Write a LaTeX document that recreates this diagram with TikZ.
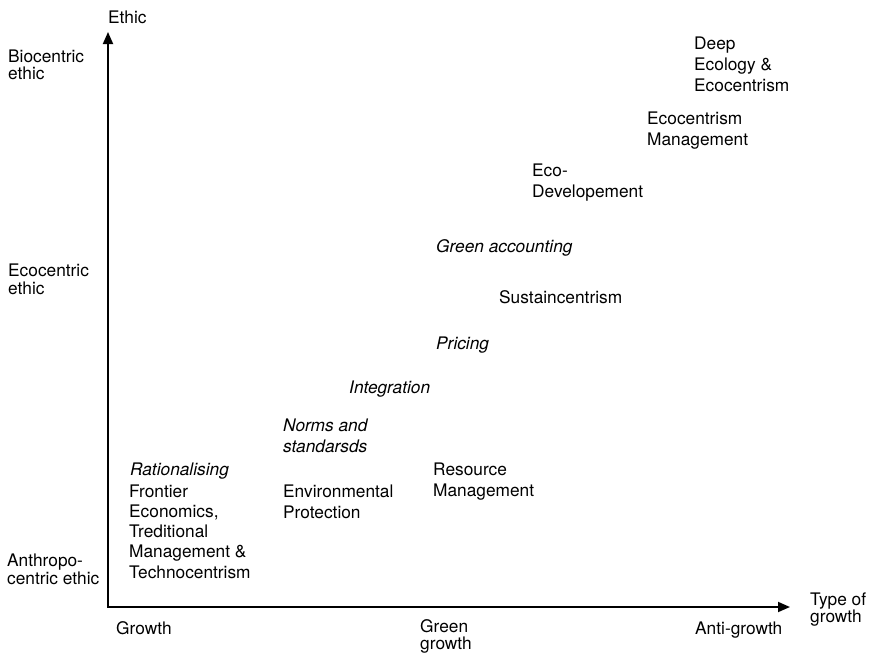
\documentclass[tikz,border=0pt]{standalone}
\usepackage{fontspec}
\setmainfont{TeX Gyre Heros}
\usetikzlibrary{arrows.meta}
\newcommand{\mlines}[1]{\begin{tabular}[t]{@{}l@{}}#1\end{tabular}}
\begin{document}
\begin{tikzpicture}[x=1pt,y=-1pt,
  lbl/.style={anchor=base west,inner sep=0pt,font=\fontsize{17.3}{21}\selectfont},
  axlbl/.style={anchor=base west,inner sep=0pt,font=\fontsize{17.3}{16.6}\selectfont},
  itl/.style={lbl,font=\fontsize{17.3}{21}\selectfont\itshape},
  axis/.style={line width=1.8pt,{Triangle[length=12pt,width=10pt]}-{Triangle[length=12pt,width=10pt]}}]
\useasboundingbox (0,0) rectangle (871,653);
\coordinate (O) at (108,607);
\coordinate (ytip) at (108,32);
\coordinate (xtip) at (790,607);
\draw[axis] (ytip) -- (O) -- (xtip);
% axis labels
\node[axlbl] (ethic) at (108,23.5) {Ethic};
\node[axlbl] (bio) at (8,62) {\mlines{Biocentric\\ethic}};
\node[axlbl] (eco) at (8,276.5) {\mlines{Ecocentric\\ethic}};
\node[axlbl] (anthro) at (7,566.5) {\mlines{Anthropo-\\centric ethic}};
\node[axlbl] (growth) at (116,634) {Growth};
\node[axlbl,font=\fontsize{17.3}{15.8}\selectfont] (green) at (420,632) {\mlines{Green\\growth}};
\node[axlbl] (anti) at (695,634) {Anti-growth};
\node[axlbl] (type) at (810,605) {\mlines{Type of\\growth}};
% content
\node[itl] (rat) at (130,475.5) {Rationalising};
\node[lbl,font=\fontsize{17.3}{20.3}\selectfont] (front) at (129,497) {\mlines{Frontier\\Economics,\\Treditional\\Management \&\\Technocentrism}};
\node[itl] (norms) at (283,431) {\mlines{Norms and\\standarsds}};
\node[lbl] (env) at (283,497.5) {\mlines{Environmental\\Protection}};
\node[itl] (integ) at (349,393) {Integration};
\node[lbl] (res) at (433,475.5) {\mlines{Resource\\Management}};
\node[itl] (pric) at (436,349) {Pricing};
\node[lbl] (sust) at (499,303.5) {Sustaincentrism};
\node[itl] (gacc) at (436,252) {Green accounting};
\node[lbl] (ecodev) at (532,176.5) {\mlines{Eco-\\Developement}};
\node[lbl] (ecoman) at (647,124.5) {\mlines{Ecocentrism\\Management}};
\node[lbl] (deep) at (694,49) {\mlines{Deep\\Ecology \&\\Ecocentrism}};
\end{tikzpicture}
\end{document}
